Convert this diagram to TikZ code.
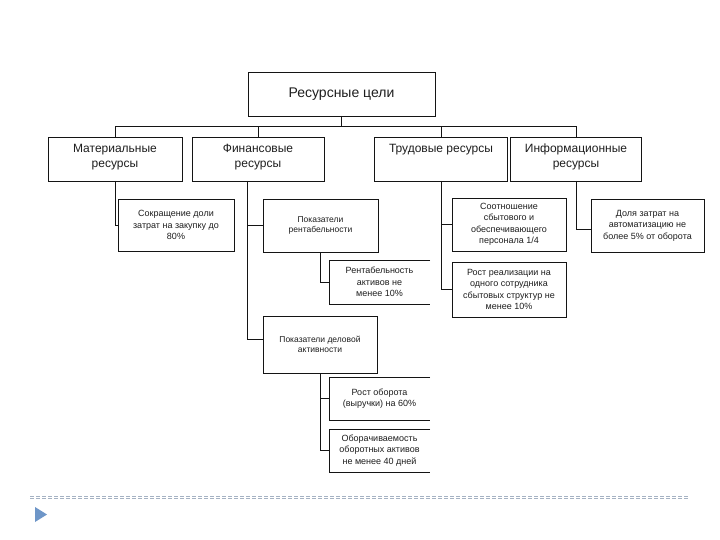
\documentclass[tikz,border=0pt]{standalone}
\usepackage{fontspec}
\setmainfont{Liberation Sans}
\definecolor{linec}{RGB}{20,20,20}
\definecolor{textc}{RGB}{30,30,30}
\definecolor{dashc}{RGB}{165,178,195}
\definecolor{bulletc}{RGB}{110,150,200}
\begin{document}
\begin{tikzpicture}[x=1pt,y=-1pt,
  box/.style={draw=linec,line width=0.8pt,inner sep=0pt,outer sep=0pt,align=center,text=textc},
  openbox/.style={draw=none,inner sep=0pt,outer sep=0pt,align=center,text=textc},
  toptext/.style={font=\fontsize{14}{16}\selectfont},
  lvtwo/.style={font=\fontsize{12}{15}\selectfont,align=center,inner sep=0pt,text=textc},
  lvthree/.style={font=\fontsize{9}{11.5}\selectfont},
  lvsmall/.style={font=\fontsize{8.5}{10.5}\selectfont},
  conn/.style={draw=linec,line width=0.8pt}]
\useasboundingbox (0,0) rectangle (720,540);
\fill[white] (0,0) rectangle (720,540);

% top
\node[box,toptext,minimum width=187,minimum height=44] (top) at (341.5,94) {Ресурсные цели};

% level 2
\node[box,minimum width=134,minimum height=44] (mat) at (115,159) {};
\node[box,minimum width=132,minimum height=44] (fin) at (258,159) {};
\node[box,minimum width=133,minimum height=44] (tr) at (441,159) {};
\node[box,minimum width=131,minimum height=44] (inf) at (576,159) {};
\node[lvtwo,anchor=north] (matt) at (115,144) {Материальные\\ресурсы};
\node[lvtwo,anchor=north] (fint) at (258,144) {Финансовые\\ресурсы};
\node[lvtwo,anchor=north] (trt) at (441,144) {Трудовые ресурсы};
\node[lvtwo,anchor=north] (inft) at (576,144) {Информационные\\ресурсы};

\coordinate (bus) at (0,126);
\draw[conn] (mat.north) |- (bus -| inf.north) -- (inf.north);
\draw[conn] (fin.north) -- (fin.north |- bus);
\draw[conn] (tr.north) -- (tr.north |- bus);
\draw[conn] (top.south) -- (top.south |- bus);

% level 3
\node[box,lvthree,minimum width=116,minimum height=52] (sok) at (176,225) {Сокращение доли\\затрат на закупку до\\80\%};
\node[box,lvsmall,minimum width=115,minimum height=53] (pr) at (320.5,225.5) {Показатели\\рентабельности};
\node[openbox,lvthree,minimum width=101,minimum height=44] (ra) at (379.5,282) {Рентабельность\\активов не\\менее 10\%};
\node[box,lvsmall,minimum width=114,minimum height=57] (pda) at (320,344.5) {Показатели деловой\\активности};
\node[openbox,lvthree,minimum width=101,minimum height=43] (ro) at (379.5,398.5) {Рост оборота\\(выручки) на 60\%};
\node[openbox,lvthree,minimum width=101,minimum height=43] (ob) at (379.5,450.5) {Оборачиваемость\\оборотных активов\\не менее 40 дней};
\node[box,lvthree,minimum width=114,minimum height=53] (so) at (509,224.5) {Соотношение\\сбытового и\\обеспечивающего\\персонала 1/4};
\node[box,lvthree,minimum width=114,minimum height=55] (rr) at (509,289.5) {Рост реализации на\\одного сотрудника\\сбытовых структур не\\менее 10\%};
\node[box,lvthree,minimum width=113,minimum height=53] (dz) at (647.5,225.5) {Доля затрат на\\автоматизацию не\\более 5\% от оборота};

% open boxes (no right edge)
\foreach \n in {ra,ro,ob}{
  \draw[conn] (\n.north east) -- (\n.north west) -- (\n.south west) -- (\n.south east);
}

% connectors
\draw[conn] (mat.south) |- (sok.west);
\draw[conn] ([xshift=-11pt]fin.south) |- ([yshift=5pt]pda.west);
\draw[conn] ([xshift=-11pt]fin.south |- pr.west) -- (pr.west);
\draw[conn] (pr.south) |- (ra.west);
\draw[conn] (pda.south) |- (ob.west);
\draw[conn] (pda.south |- ro.west) -- (ro.west);
\draw[conn] (tr.south) |- (rr.west);
\draw[conn] (tr.south |- so.west) -- (so.west);
\draw[conn] (inf.south) |- ([yshift=-3.5pt]dz.west);

% footer
\coordinate (fl) at (30,496);
\coordinate (fr) at (688,496);
\draw[dashc,line width=0.6pt,dash pattern=on 4pt off 2pt] (fl) -- (fr);
\draw[dashc,line width=0.6pt,dash pattern=on 4pt off 2pt] ([yshift=-2.5pt]fl) -- ([yshift=-2.5pt]fr);
\fill[bulletc] (35,507) -- (47,514.5) -- (35,522) -- cycle;
\end{tikzpicture}
\end{document}
